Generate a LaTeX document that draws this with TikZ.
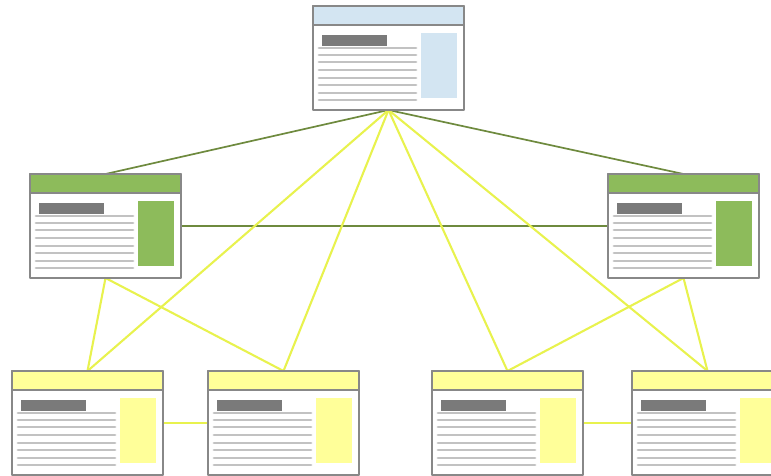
\documentclass[tikz,border=0pt]{standalone}
\usetikzlibrary{positioning}
\usetikzlibrary{calc}
\usetikzlibrary{backgrounds}

\definecolor{frame}{HTML}{888888}
\definecolor{bluehead}{HTML}{D3E5F2}
\definecolor{greenhead}{HTML}{8DBB5B}
\definecolor{yellowhead}{HTML}{FFFF99}
\definecolor{darkbar}{HTML}{7A7A7A}
\definecolor{textline}{HTML}{C2C2C2}
\definecolor{greenlink}{HTML}{6E8A3E}
\definecolor{yellowlink}{HTML}{E8F24E}

\tikzset{
	page/.style={draw=frame, line width=1.2pt, fill=white, minimum width=151pt, minimum height=104pt, inner sep=0pt, outer sep=0pt, anchor=north west},
	greenline/.style={draw=greenlink, line width=1.7pt},
	yellowline/.style={draw=yellowlink, line width=2.1pt}
}

% header, title bar, text lines and side box of one page
\newcommand{\pagebits}[2]{%
	\draw [frame, line width=1.2pt, fill=#2] (#1.north west) rectangle ($(#1.north east)+(0,19)$);
	\fill [darkbar] ($(#1.north west)+(9,29)$) rectangle ($(#1.north west)+(74,40)$);
	\foreach \ly in {42,49,56,64,72,79,87,94}
		\draw [textline, line width=2.8pt] ($(#1.north west)+(6,\ly)$) -- ($(#1.north west)+(103,\ly)$);
	\fill [#2] ($(#1.north west)+(108,27)$) rectangle ($(#1.north west)+(144,92)$);
}

\begin{document}
\begin{tikzpicture}[x=1pt, y=-1pt, line cap=round, line join=round]
	\useasboundingbox (0,0) rectangle (771,475);

	\node [page] (home) at (313,6) {};
	\node [page] (leftsec) at (30,174) {};
	\node [page] (rightsec) at (608,174) {};
	\node [page] (leafa) at (12,371) {};
	\node [page] (leafb) at (208,371) {};
	\node [page] (leafc) at (432,371) {};
	\node [page] (leafd) at (632,371) {};

	\begin{scope}[on background layer]
		\draw [greenline] (home.south) -- (leftsec.north);
		\draw [greenline] (home.south) -- (rightsec.north);
		\draw [greenline] (leftsec.east) -- (rightsec.west);
		\foreach \leaf in {leafa,leafb,leafc,leafd}
			\draw [yellowline] (home.south) -- (\leaf.north);
		\draw [yellowline] (leftsec.south) -- (leafa.north);
		\draw [yellowline] (leftsec.south) -- (leafb.north);
		\draw [yellowline] (rightsec.south) -- (leafc.north);
		\draw [yellowline] (rightsec.south) -- (leafd.north);
		\draw [yellowline] (leafa.east) -- (leafb.west);
		\draw [yellowline] (leafc.east) -- (leafd.west);
	\end{scope}

	\pagebits{home}{bluehead}
	\pagebits{leftsec}{greenhead}
	\pagebits{rightsec}{greenhead}
	\pagebits{leafa}{yellowhead}
	\pagebits{leafb}{yellowhead}
	\pagebits{leafc}{yellowhead}
	\pagebits{leafd}{yellowhead}
\end{tikzpicture}
\end{document}
